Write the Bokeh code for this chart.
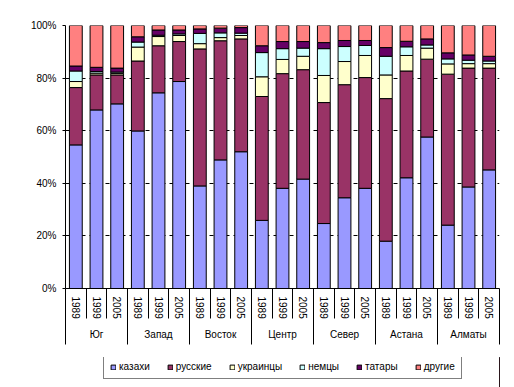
from bokeh.plotting import figure
from bokeh.layouts import column
from bokeh.models import (Range1d, LinearAxis, FixedTicker, NumeralTickFormatter,
                          Legend, LegendItem, Grid)
from bokeh.embed import file_html
from bokeh.resources import INLINE

regions = ["Юг", "Запад", "Восток", "Центр", "Север", "Астана", "Алматы"]
years = ["1989", "1999", "2005"]
series = ["казахи", "русские", "украинцы", "немцы", "татары", "другие"]

kaz = [54.6, 67.9, 70.2, 59.9, 74.4, 78.7, 39.0, 48.9, 52.0, 25.9, 38.1, 41.6, 24.7, 34.5, 38.1, 18.0, 42.1, 57.6, 24.1, 38.6, 45.1]
rus = [21.8, 13.3, 11.0, 26.6, 17.9, 15.2, 52.1, 45.3, 42.9, 47.1, 43.6, 41.6, 46.0, 43.0, 42.1, 54.2, 40.6, 29.6, 57.4, 45.2, 38.7]
ukr = [2.3, 0.7, 0.6, 5.3, 3.5, 2.3, 2.0, 1.2, 1.3, 7.5, 5.4, 5.1, 10.3, 8.8, 8.4, 9.0, 5.9, 4.2, 3.9, 1.7, 1.7]
nem = [4.0, 0.6, 0.5, 1.9, 0.5, 0.6, 3.9, 1.8, 0.9, 9.2, 4.1, 3.1, 10.2, 5.7, 3.8, 7.1, 3.3, 1.2, 1.9, 1.3, 1.0]
tat = [1.9, 1.6, 1.5, 2.0, 2.0, 1.5, 1.7, 1.8, 2.1, 2.6, 2.7, 2.5, 2.3, 2.3, 1.9, 3.3, 2.1, 2.3, 2.3, 2.0, 1.8]
dru = [15.4, 15.9, 16.2, 4.3, 1.7, 1.7, 1.3, 1.0, 0.8, 7.7, 6.1, 6.1, 6.5, 5.7, 5.7, 8.4, 6.0, 5.1, 10.4, 11.2, 11.7]

colors = ["#9999FF", "#993366", "#FFFFCC", "#CCFFFF", "#660066", "#FF8080"]
FONT = "Liberation Sans"
FS = "10px"

n = len(kaz)
xs = list(range(n))
vals = [kaz, rus, ukr, nem, tat, dru]
tot = [sum(v[i] for v in vals) for i in range(n)]
data = {"x": xs}
for name, v in zip(series, vals):
    data[name] = [v[i] / tot[i] for i in range(n)]

p = figure(width=514, height=357, output_backend="svg", toolbar_location=None,
           x_range=Range1d(-0.5, n - 0.5), y_range=Range1d(0, 1),
           x_axis_type=None, y_axis_type=None,
           min_border_left=65, min_border_right=15, min_border_top=25,
           min_border_bottom=69)
p.outline_line_color = None
p.background_fill_color = "white"
p.border_fill_color = "white"

rends = p.vbar_stack(series, x="x", width=0.62, source=data, color=colors,
                     line_color="black", line_width=1)

# y axis
yax = LinearAxis(ticker=FixedTicker(ticks=[0, 0.2, 0.4, 0.6, 0.8, 1.0]),
                 formatter=NumeralTickFormatter(format="0%"))
yax.major_tick_out = 3
yax.major_tick_in = 0
yax.minor_tick_line_color = None
yax.minor_tick_out = 0
yax.major_label_standoff = 6
yax.major_label_text_font = FONT
yax.major_label_text_font_size = FS
yax.major_label_text_color = "black"
yax.axis_line_color = "black"
yax.major_tick_line_color = "black"
p.add_layout(yax, "left")

# x axis: years
bounds = [i + 0.5 for i in range(-1, n)]
xax1 = LinearAxis(ticker=FixedTicker(ticks=xs, minor_ticks=bounds))
xax1.major_label_overrides = {i: years[i % 3] for i in xs}
xax1.major_label_orientation = "vertical"
xax1.major_tick_out = 0
xax1.major_tick_in = 0
xax1.major_tick_line_color = None
xax1.minor_tick_in = 0
xax1.minor_tick_out = 30
xax1.minor_tick_line_color = "black"
xax1.major_label_standoff = -22
xax1.major_label_text_font = FONT
xax1.major_label_text_font_size = FS
xax1.major_label_text_color = "black"
xax1.axis_line_color = "black"
p.add_layout(xax1, "below")

# x axis: regions
gcenters = [3 * g + 1 for g in range(len(regions))]
gbounds = [3 * g - 0.5 for g in range(len(regions) + 1)]
xax2 = LinearAxis(ticker=FixedTicker(ticks=gcenters, minor_ticks=gbounds))
xax2.major_label_overrides = {c: r for c, r in zip(gcenters, regions)}
xax2.major_tick_out = 0
xax2.major_tick_in = 0
xax2.major_tick_line_color = None
xax2.minor_tick_in = 30
xax2.minor_tick_out = 23
xax2.minor_tick_line_color = "black"
xax2.axis_line_color = None
xax2.major_label_standoff = -16
xax2.major_label_text_font = FONT
xax2.major_label_text_font_size = FS
xax2.major_label_text_color = "black"
p.add_layout(xax2, "below")

p.add_layout(Grid(dimension=1, ticker=yax.ticker, grid_line_color="black",
                  grid_line_dash="4 4", grid_line_width=1))

# legend strip
q = figure(width=514, height=30, output_backend="svg", toolbar_location=None,
           x_range=Range1d(0, 1), y_range=Range1d(0, 1),
           x_axis_type=None, y_axis_type=None,
           min_border_left=65, min_border_right=15, min_border_top=0,
           min_border_bottom=0)
q.outline_line_color = None
q.xgrid.visible = False
q.ygrid.visible = False
lrends = [q.vbar(x=[5], top=[5], width=0.5, fill_color=c,
                 line_color="black", line_width=1) for c in colors]

legend = Legend(items=[LegendItem(label=s, renderers=[r]) for s, r in zip(series, lrends)],
                orientation="horizontal", location=(38, 8))
legend.border_line_color = "black"
legend.border_line_width = 1
legend.background_fill_color = "white"
legend.background_fill_alpha = 1
legend.label_text_font = FONT
legend.label_text_font_size = FS
legend.label_text_color = "black"
legend.glyph_width = 6
legend.glyph_height = 6
legend.label_standoff = 3
legend.label_height = 10
legend.spacing = 17
legend.padding = 6
legend.margin = 0
q.add_layout(legend, "center")

layout = column(p, q, spacing=0)
open("out.html", "w").write(file_html(layout, INLINE))
